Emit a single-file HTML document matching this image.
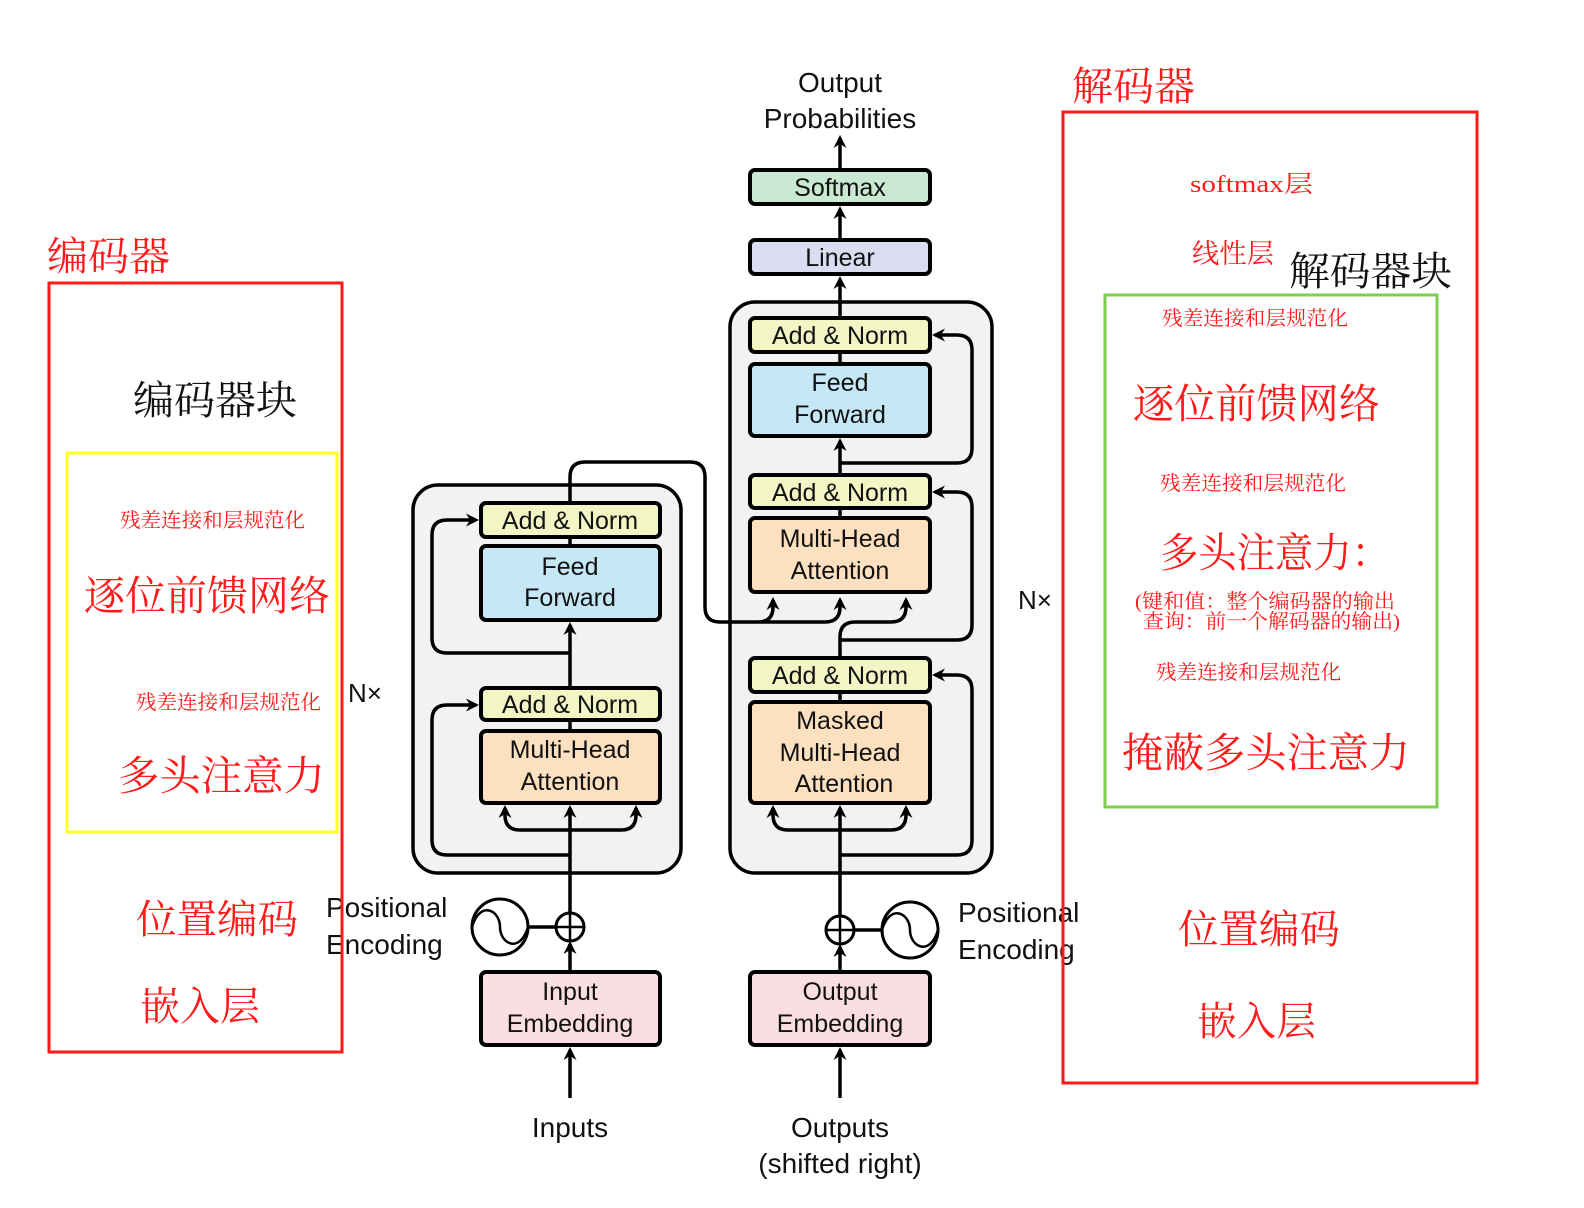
<!DOCTYPE html>
<html><head><meta charset="utf-8"><style>
html,body{margin:0;padding:0;background:#fff;}
svg{display:block;}
.en{font-family:"Liberation Sans",sans-serif;fill:#111;}
.cn{font-family:"Liberation Serif","Noto Serif CJK SC",serif;fill:#ff1a1a;}
.cb{font-family:"Liberation Serif","Noto Serif CJK SC",serif;fill:#111;}
</style></head><body>
<svg width="1584" height="1208" viewBox="0 0 1584 1208" xmlns="http://www.w3.org/2000/svg">
<defs>
<marker id="a" markerWidth="13" markerHeight="13" refX="10" refY="6.5" orient="auto" markerUnits="userSpaceOnUse"><path d="M0,0 L13,6.5 L0,13 L4,6.5 z" fill="#000"/></marker>
</defs>
<g stroke="#000" stroke-width="3.5" fill="none">
<rect x="413" y="485" width="268" height="388" rx="25" fill="#f2f2f2"/>
<rect x="730" y="302" width="262" height="571" rx="25" fill="#f2f2f2"/>
</g>
<g stroke="#000" stroke-width="3.5" fill="none">
<line x1="570" y1="1098" x2="570" y2="1050" marker-end="url(#a)"/>
<line x1="570" y1="972" x2="570" y2="944" marker-end="url(#a)"/>
<line x1="570" y1="913" x2="570" y2="808" marker-end="url(#a)"/>
<path d="M570 830 H520 Q505 830 505 815 V808" marker-end="url(#a)"/>
<path d="M570 830 H621 Q636 830 636 815 V808" marker-end="url(#a)"/>
<line x1="570" y1="731" x2="570" y2="720"/>
<line x1="570" y1="688" x2="570" y2="625" marker-end="url(#a)"/>
<line x1="570" y1="546" x2="570" y2="537"/>
<path d="M570 855 H447 Q432 855 432 840 V720 Q432 705 447 705 H476" marker-end="url(#a)"/>
<path d="M570 653 H447 Q432 653 432 638 V535 Q432 520 447 520 H476" marker-end="url(#a)"/>
<path d="M570 503 V477 Q570 462 585 462 H690 Q705 462 705 477 V607 Q705 622 720 622 H758 Q773 622 773 607 V600" marker-end="url(#a)"/>
<path d="M760 622 H825 Q840 622 840 607 V600" marker-end="url(#a)"/>
<line x1="840" y1="1098" x2="840" y2="1050" marker-end="url(#a)"/>
<line x1="840" y1="972" x2="840" y2="947" marker-end="url(#a)"/>
<line x1="840" y1="916" x2="840" y2="808" marker-end="url(#a)"/>
<path d="M840 830 H788 Q773 830 773 815 V808" marker-end="url(#a)"/>
<path d="M840 830 H891 Q906 830 906 815 V808" marker-end="url(#a)"/>
<line x1="840" y1="702" x2="840" y2="692"/>
<path d="M840 855 H957 Q972 855 972 840 V690 Q972 675 957 675 H935" marker-end="url(#a)"/>
<path d="M840 658 V637 Q840 622 855 622 H891 Q906 622 906 607 V600" marker-end="url(#a)"/>
<path d="M840 640 H957 Q972 640 972 625 V507 Q972 492 957 492 H935" marker-end="url(#a)"/>
<line x1="840" y1="518" x2="840" y2="508"/>
<line x1="840" y1="475" x2="840" y2="441" marker-end="url(#a)"/>
<line x1="840" y1="364" x2="840" y2="352"/>
<path d="M840 463 H957 Q972 463 972 448 V350 Q972 335 957 335 H935" marker-end="url(#a)"/>
<line x1="840" y1="318" x2="840" y2="279" marker-end="url(#a)"/>
<line x1="840" y1="240" x2="840" y2="209" marker-end="url(#a)"/>
<line x1="840" y1="170" x2="840" y2="138" marker-end="url(#a)"/>
<line x1="528" y1="927" x2="556" y2="927"/>
<line x1="854" y1="930" x2="882" y2="930"/>
</g>
<g stroke="#000" stroke-width="3" fill="#fff">
<circle cx="570" cy="927" r="14"/>
<circle cx="840" cy="930" r="14"/>
<circle cx="500" cy="927" r="28"/>
<circle cx="910" cy="930" r="28"/>
</g>
<g stroke="#000" stroke-width="2.5" fill="none">
<path d="M556 927 H584 M570 913 V941"/>
<path d="M826 930 H854 M840 916 V944"/>
<path d="M472 927 C480 900 500 910 500 927 C500 944 520 954 528 927"/>
<path d="M882 930 C890 903 910 913 910 930 C910 947 930 957 938 930"/>
</g>
<g stroke="#000" stroke-width="4">
<rect x="481" y="503" width="179" height="34" rx="5" fill="#f2f5c4"/>
<rect x="481" y="546" width="179" height="74" rx="5" fill="#c5e7f6"/>
<rect x="481" y="688" width="179" height="32" rx="5" fill="#f2f5c4"/>
<rect x="481" y="731" width="179" height="72" rx="5" fill="#fde0bf"/>
<rect x="481" y="972" width="179" height="73" rx="5" fill="#fadee1"/>
<rect x="750" y="318" width="180" height="34" rx="5" fill="#f2f5c4"/>
<rect x="750" y="364" width="180" height="72" rx="5" fill="#c5e7f6"/>
<rect x="750" y="475" width="180" height="33" rx="5" fill="#f2f5c4"/>
<rect x="750" y="518" width="180" height="74" rx="5" fill="#fde0bf"/>
<rect x="750" y="658" width="180" height="34" rx="5" fill="#f2f5c4"/>
<rect x="750" y="702" width="180" height="101" rx="5" fill="#fde0bf"/>
<rect x="750" y="972" width="180" height="73" rx="5" fill="#fadee1"/>
<rect x="750" y="240" width="180" height="34" rx="5" fill="#dadcf0"/>
<rect x="750" y="170" width="180" height="34" rx="5" fill="#c9e9d2"/>
</g>
<g class="en" font-size="25" text-anchor="middle">
<text x="570" y="529">Add &amp; Norm</text>
<text x="570" y="575">Feed</text><text x="570" y="606">Forward</text>
<text x="570" y="713">Add &amp; Norm</text>
<text x="570" y="758">Multi-Head</text><text x="570" y="790">Attention</text>
<text x="570" y="1000">Input</text><text x="570" y="1032">Embedding</text>
<text x="840" y="344">Add &amp; Norm</text>
<text x="840" y="391">Feed</text><text x="840" y="423">Forward</text>
<text x="840" y="501">Add &amp; Norm</text>
<text x="840" y="547">Multi-Head</text><text x="840" y="579">Attention</text>
<text x="840" y="684">Add &amp; Norm</text>
<text x="840" y="729">Masked</text><text x="840" y="761">Multi-Head</text><text x="844" y="792">Attention</text>
<text x="840" y="1000">Output</text><text x="840" y="1032">Embedding</text>
<text x="840" y="266">Linear</text>
<text x="840" y="196">Softmax</text>
</g>
<g class="en" font-size="28">
<text x="840" y="92" text-anchor="middle">Output</text>
<text x="840" y="128" text-anchor="middle">Probabilities</text>
<text x="570" y="1137" text-anchor="middle">Inputs</text>
<text x="840" y="1137" text-anchor="middle">Outputs</text>
<text x="840" y="1173" text-anchor="middle">(shifted right)</text>
<text x="326" y="917">Positional</text>
<text x="326" y="954">Encoding</text>
<text x="958" y="922">Positional</text>
<text x="958" y="959">Encoding</text>
<text x="348" y="702" font-size="26">N×</text>
<text x="1018" y="609" font-size="26">N×</text>
</g>
<g fill="none" stroke-width="3">
<rect x="49" y="283" width="293" height="769" stroke="#ff1a1a"/>
<rect x="67" y="453" width="270" height="379" stroke="#ffff22"/>
<rect x="1063" y="112" width="414" height="971" stroke="#ff1a1a"/>
<rect x="1105" y="295" width="332" height="512" stroke="#7dcf4f"/>
</g>
<g class="cn">
<text x="47" y="270" font-size="40" textLength="123" lengthAdjust="spacingAndGlyphs">编码器</text>
<text x="120" y="527" font-size="20" textLength="185" lengthAdjust="spacingAndGlyphs">残差连接和层规范化</text>
<text x="84" y="610" font-size="41" textLength="246" lengthAdjust="spacingAndGlyphs">逐位前馈网络</text>
<text x="136" y="709" font-size="20" textLength="185" lengthAdjust="spacingAndGlyphs">残差连接和层规范化</text>
<text x="118" y="790" font-size="41" textLength="207" lengthAdjust="spacingAndGlyphs">多头注意力</text>
<text x="136" y="933" font-size="40" textLength="162" lengthAdjust="spacingAndGlyphs">位置编码</text>
<text x="140" y="1020" font-size="40" textLength="120" lengthAdjust="spacingAndGlyphs">嵌入层</text>
<text x="1072" y="100" font-size="40" textLength="123" lengthAdjust="spacingAndGlyphs">解码器</text>
<text x="1190" y="192" font-size="24" textLength="123" lengthAdjust="spacingAndGlyphs">softmax层</text>
<text x="1192" y="263" font-size="27" textLength="82" lengthAdjust="spacingAndGlyphs">线性层</text>
<text x="1162" y="325" font-size="20" textLength="186" lengthAdjust="spacingAndGlyphs">残差连接和层规范化</text>
<text x="1133" y="418" font-size="41" textLength="247" lengthAdjust="spacingAndGlyphs">逐位前馈网络</text>
<text x="1160" y="490" font-size="20" textLength="186" lengthAdjust="spacingAndGlyphs">残差连接和层规范化</text>
<text x="1160" y="567" font-size="41" textLength="230" lengthAdjust="spacingAndGlyphs">多头注意力：</text>
<text x="1135" y="608" font-size="20" textLength="260" lengthAdjust="spacingAndGlyphs">(键和值：整个编码器的输出</text>
<text x="1143" y="628" font-size="20" textLength="257" lengthAdjust="spacingAndGlyphs">查询：前一个解码器的输出)</text>
<text x="1156" y="679" font-size="20" textLength="185" lengthAdjust="spacingAndGlyphs">残差连接和层规范化</text>
<text x="1122" y="767" font-size="41" textLength="288" lengthAdjust="spacingAndGlyphs">掩蔽多头注意力</text>
<text x="1178" y="943" font-size="40" textLength="162" lengthAdjust="spacingAndGlyphs">位置编码</text>
<text x="1197" y="1035" font-size="40" textLength="119" lengthAdjust="spacingAndGlyphs">嵌入层</text>
</g>
<g class="cb">
<text x="133" y="414" font-size="40" textLength="164" lengthAdjust="spacingAndGlyphs">编码器块</text>
<text x="1289" y="285" font-size="40" textLength="163" lengthAdjust="spacingAndGlyphs">解码器块</text>
</g>
</svg>
</body></html>
